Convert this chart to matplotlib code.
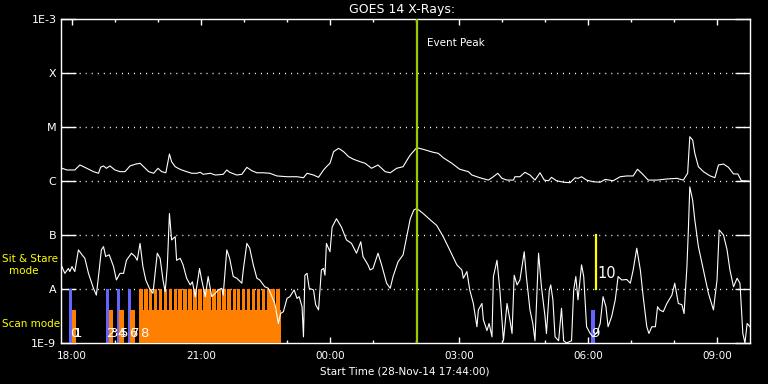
import matplotlib
matplotlib.use("Agg")
import numpy as np
import matplotlib.pyplot as plt
from matplotlib.ticker import MultipleLocator, FuncFormatter, NullLocator

# ---------- data (time = minutes after 28-Nov-14 17:44:00) ----------
START_MIN = 17 * 60 + 44

# GOES 14 long channel (1-8 A), units of 1e-6 W/m2
long_t = [0, 9, 20, 27, 34, 46, 53, 56, 60, 64,
          69, 76, 83, 90, 97, 104, 111, 116, 123, 130,
          136, 141, 147, 152, 155, 160, 164, 169, 176, 183,
          190, 195, 199, 209, 216, 227, 232, 236, 246, 253,
          260, 267, 274, 283, 292, 302, 316, 330, 339, 344,
          353, 360, 367, 371, 376, 381, 388, 395, 402, 409,
          418, 425, 434, 443, 453, 460, 469, 478, 485, 488,
          497, 506, 520, 527, 534, 546, 557, 569, 574, 585,
          597, 604, 610, 616, 623, 632, 634, 641, 648, 655,
          662, 669, 675, 681, 685, 692, 702, 711, 718, 722,
          727, 734, 743, 753, 760, 771, 781, 790, 799, 805,
          811, 820, 832, 846, 860, 869, 875, 878, 882, 885,
          890, 897, 906, 913, 918, 925, 932, 939, 945, 950, 960]
long_flux = [1.76, 1.6, 1.6, 1.98, 1.79, 1.49, 1.39, 1.8, 1.9, 1.72,
             1.9, 1.6, 1.49, 1.49, 1.9, 2.04, 2.13, 1.84, 1.49, 1.39,
             1.72, 1.49, 1.42, 3.16, 2.28, 1.84, 1.72, 1.6, 1.49, 1.39,
             1.39, 1.45, 1.33, 1.39, 1.29, 1.33, 1.6, 1.45, 1.29, 1.33,
             1.79, 1.55, 1.42, 1.42, 1.39, 1.24, 1.2, 1.2, 1.15, 1.39,
             1.29, 1.17, 1.6, 1.84, 2.13, 3.49, 4.03, 3.49, 2.82, 2.52,
             2.28, 2.13, 1.72, 1.98, 1.49, 1.42, 1.72, 1.84, 2.63, 3.03,
             4.14, 3.86, 3.4, 3.26, 2.7, 2.13, 1.65, 1.49, 1.29, 1.15,
             1.04, 1.2, 1.39, 1.12, 1.04, 1.04, 1.2, 1.2, 1.45, 1.29,
             1.04, 1.42, 1.04, 1.01, 1.17, 1.01, 0.95, 0.93, 1.15, 1.12,
             1.2, 1.04, 0.97, 0.95, 1.07, 1.01, 1.2, 1.24, 1.24, 1.65,
             1.39, 1.04, 1.04, 1.09, 1.12, 1.04, 1.39, 6.6, 5.74, 3.26,
             1.84, 1.49, 1.25, 1.15, 1.98, 2.06, 1.79, 1.35, 1.35, 1.01, 1.0]

# GOES 14 short channel (0.5-4 A), units of 1e-9 W/m2
short_t = [0, 6, 11, 13, 16, 20, 25, 30, 34, 39,
           46, 50, 54, 57, 60, 63, 68, 74, 78, 83,
           88, 92, 99, 104, 107, 111, 115, 119, 124, 129,
           135, 139, 143, 146, 149, 152, 155, 160, 162, 167,
           171, 176, 181, 184, 188, 194, 197, 202, 206, 211,
           216, 220, 225, 227, 232, 236, 241, 246, 253, 255,
           260, 264, 269, 274, 278, 285, 290, 295, 299, 304,
           307, 311, 316, 320, 326, 330, 333, 337, 339, 341,
           344, 347, 353, 356, 360, 362, 364, 367, 369, 371,
           376, 379, 385, 392, 399, 406, 413, 419, 422, 429,
           432, 436, 443, 448, 455, 460, 464, 471, 478, 483,
           488, 493, 497, 506, 516, 525, 534, 543, 553, 560,
           562, 567, 571, 576, 581, 583, 588, 590, 595, 598,
           602, 604, 609, 613, 618, 623, 627, 630, 633, 637, 641,
           647, 650, 655, 659, 662, 667, 671, 676, 678, 682,
           684, 687, 690, 695, 699, 702, 706, 713, 716, 719,
           722, 727, 730, 734, 739, 743, 749, 753, 757, 761,
           764, 769, 774, 778, 783, 790, 795, 799, 804, 809,
           813, 818, 821, 825, 830, 833, 836, 841, 846, 853,
           857, 862, 867, 870, 874, 876, 878, 882, 885, 890,
           897, 904, 911, 916, 919, 925, 930, 934, 939, 944,
           948, 952, 955, 958, 962]
short_flux = [30, 19.5, 24, 21, 26, 21, 53, 43, 37, 19.5,
              10.3, 7.7, 22.5, 53, 61, 40, 43, 26, 14.7, 19.5,
              19.5, 34, 46, 40, 34, 70, 26, 14.7, 10.3, 8.3,
              46, 37, 14.7, 8.9, 26, 250, 81, 93, 34, 37,
              28, 15.8, 11.9, 13.6, 7.2, 24, 14.7, 7.2, 17, 7.2,
              8.3, 9.6, 10.3, 7.7, 53, 37, 17, 15.8, 12.8, 22.5,
              70, 57, 28, 15.8, 14.7, 11, 10.3, 7.2, 5.4, 2.3,
              3.5, 3.8, 6.7, 7.2, 9.6, 6.7, 7.2, 4.7, 1.3, 18,
              19.5, 10.3, 9.6, 5.1, 4.1, 9.6, 22.5, 24, 18, 70,
              49, 140, 200, 140, 81, 70, 46, 75, 40, 28,
              22.5, 24, 46, 28, 12.8, 10.3, 17, 32, 43, 93,
              200, 290, 310, 250, 190, 150, 93, 53, 28, 22.5,
              15.8, 21, 9.6, 5.4, 2.0, 4.1, 5.4, 2.7, 1.7, 2.3,
              1.3, 17, 34, 9.6, 1.1, 5.4, 2.7, 1.5, 18, 11.9, 14.7,
              49, 17, 4.1, 2.3, 1.1, 46, 11, 3.1, 1.5, 9.6,
              11.9, 6.3, 1.3, 1.1, 4.4, 1.1, 1.0, 1.1, 9.6, 17,
              6.3, 28, 17, 2.0, 1.5, 1.3, 1.6, 2.3, 7.2, 4.7,
              2.0, 3.1, 6.3, 17, 14.7, 15, 12.8, 22.5, 57, 22.5,
              7.2, 2.0, 1.5, 2.0, 2.0, 4.7, 4.1, 3.8, 5.4, 7.7,
              12.8, 5.4, 5.1, 3.5, 26, 124, 780, 440, 190, 61,
              22.5, 8.3, 4.1, 14.7, 124, 100, 53, 22.5, 11, 15.8,
              12.8, 1.5, 1.0, 2.3, 2.0]

# observation bars
sns_start = [11.9, 63.5, 78.8, 94.2, 740]      # sit & stare (blue)
sns_dur = [4.2, 4.2, 4.2, 4.2, 5.6]
sns_top = [1e-8, 1e-8, 1e-8, 1e-8, 4.1e-9]

scan_start = [16, 68, 82, 97, 109.5]          # scans (orange)
scan_dur = [5.6, 5.6, 7, 7, 198.2]
scan_top = 4.1e-9

raster_start = [110, 117, 123, 130, 137, 144, 151, 158, 164, 171,
                178, 185, 192, 199, 205, 212, 219, 226, 233, 240,
                246, 253, 260, 267, 274, 281, 288, 294, 301]
raster_dur = 5.0

event_label_t = [12, 17, 63.5, 68, 78.8, 82, 94.2, 97, 109.5, 740]
event_labels = ["0", "1", "2", "3", "4", "5", "6", "7", "8", "9"]

peak_t = 497.4
sns_line_t = 747

level_vals = [1e-9, 1e-8, 1e-7, 1e-6, 1e-5, 1e-4, 1e-3]
level_names = ["1E-9", "A", "B", "C", "M", "X", "1E-3"]

BLUE = "#6464ff"
ORANGE = "#ff8000"
GREEN = "#99cc00"
# -------------------------------------------------------------------


def clock(m, pos):
    tot = int(round(START_MIN + m)) % (24 * 60)
    return "%02d:%02d" % (tot // 60, tot % 60)


fig = plt.figure(figsize=(7.68, 3.84), dpi=100, facecolor="black")
ax = fig.add_axes([60.5 / 768, 41 / 384, 689.5 / 768, 324 / 384])
ax.set_facecolor("black")
ax.set_yscale("log")
ax.set_xlim(0, 962)
ax.set_ylim(1e-9, 1e-3)

# dotted level lines
for lv in level_vals[1:-1]:
    ax.axhline(lv, color="white", lw=1, ls=(0, (0.75, 3.6)), zorder=1)

# observation bars
ax.bar(sns_start, [t - 1e-9 for t in sns_top], width=sns_dur, bottom=1e-9,
       align="edge", color=BLUE, lw=0, zorder=2)
ax.bar(scan_start, scan_top - 1e-9, width=scan_dur, bottom=1e-9,
       align="edge", color=ORANGE, lw=0, zorder=3)
ax.bar(raster_start, 1e-8 - 1e-9, width=raster_dur, bottom=1e-9,
       align="edge", color=ORANGE, lw=0, zorder=3)

# curves
ax.plot(long_t, np.array(long_flux) * 1e-6, color="white", lw=0.8, zorder=4)
ax.plot(short_t, np.array(short_flux) * 1e-9, color="white", lw=0.8, zorder=4)

# event peak
ax.axvline(peak_t, color=GREEN, lw=1.6, zorder=5)
ax.text(512, 3.6e-4, "Event Peak", color="white", fontsize=7.5,
        ha="left", va="center")

# sit & stare marker
ax.plot([sns_line_t, sns_line_t], [1e-8, 1e-7], color="yellow", lw=1.6,
        zorder=5)
ax.text(sns_line_t + 1.5, 1.6e-8, "10", color="white", fontsize=10.5,
        ha="left", va="baseline", zorder=6)

# event numbers (they overlap on the plot, as in the original)
for t, lab in zip(event_label_t, event_labels):
    ax.text(t + 1, 1.3e-9, lab, color="white", fontsize=9.5,
            ha="left", va="baseline", zorder=6)

# axes styling
for s in ax.spines.values():
    s.set_color("white")
    s.set_linewidth(1)

ax.set_yticks(level_vals)
ax.set_yticklabels(level_names)
ax.yaxis.set_minor_locator(NullLocator())
ax.tick_params(axis="y", which="major", direction="in", length=10.8,
               width=1, colors="white", left=True, right=True,
               labelsize=8, pad=3)

ax.xaxis.set_major_locator(MultipleLocator(180, offset=16))
ax.xaxis.set_minor_locator(MultipleLocator(60, offset=16))
ax.xaxis.set_major_formatter(FuncFormatter(clock))
ax.tick_params(axis="x", which="major", direction="in", length=4.5,
               width=1, colors="white", top=True, bottom=True,
               labelsize=7.5, pad=6)
ax.tick_params(axis="x", which="minor", direction="in", length=2.3,
               width=1, colors="white", top=True, bottom=True)

fig.text(402 / 768, 1 - 9 / 384, "GOES 14 X-Rays:", color="white",
         fontsize=9, ha="center", va="center")
fig.text(405 / 768, 1 - 371 / 384, "Start Time (28-Nov-14 17:44:00)",
         color="white", fontsize=7.5, ha="center", va="center")

fig.text(2 / 768, 1 - 259 / 384, "Sit & Stare", color="yellow",
         fontsize=7.5, ha="left", va="center")
fig.text(24 / 768, 1 - 271 / 384, "mode", color="yellow",
         fontsize=7.5, ha="center", va="center")
fig.text(2 / 768, 1 - 324 / 384, "Scan mode", color="yellow",
         fontsize=7.5, ha="left", va="center")

fig.savefig("out.png", dpi=100, facecolor="black")
